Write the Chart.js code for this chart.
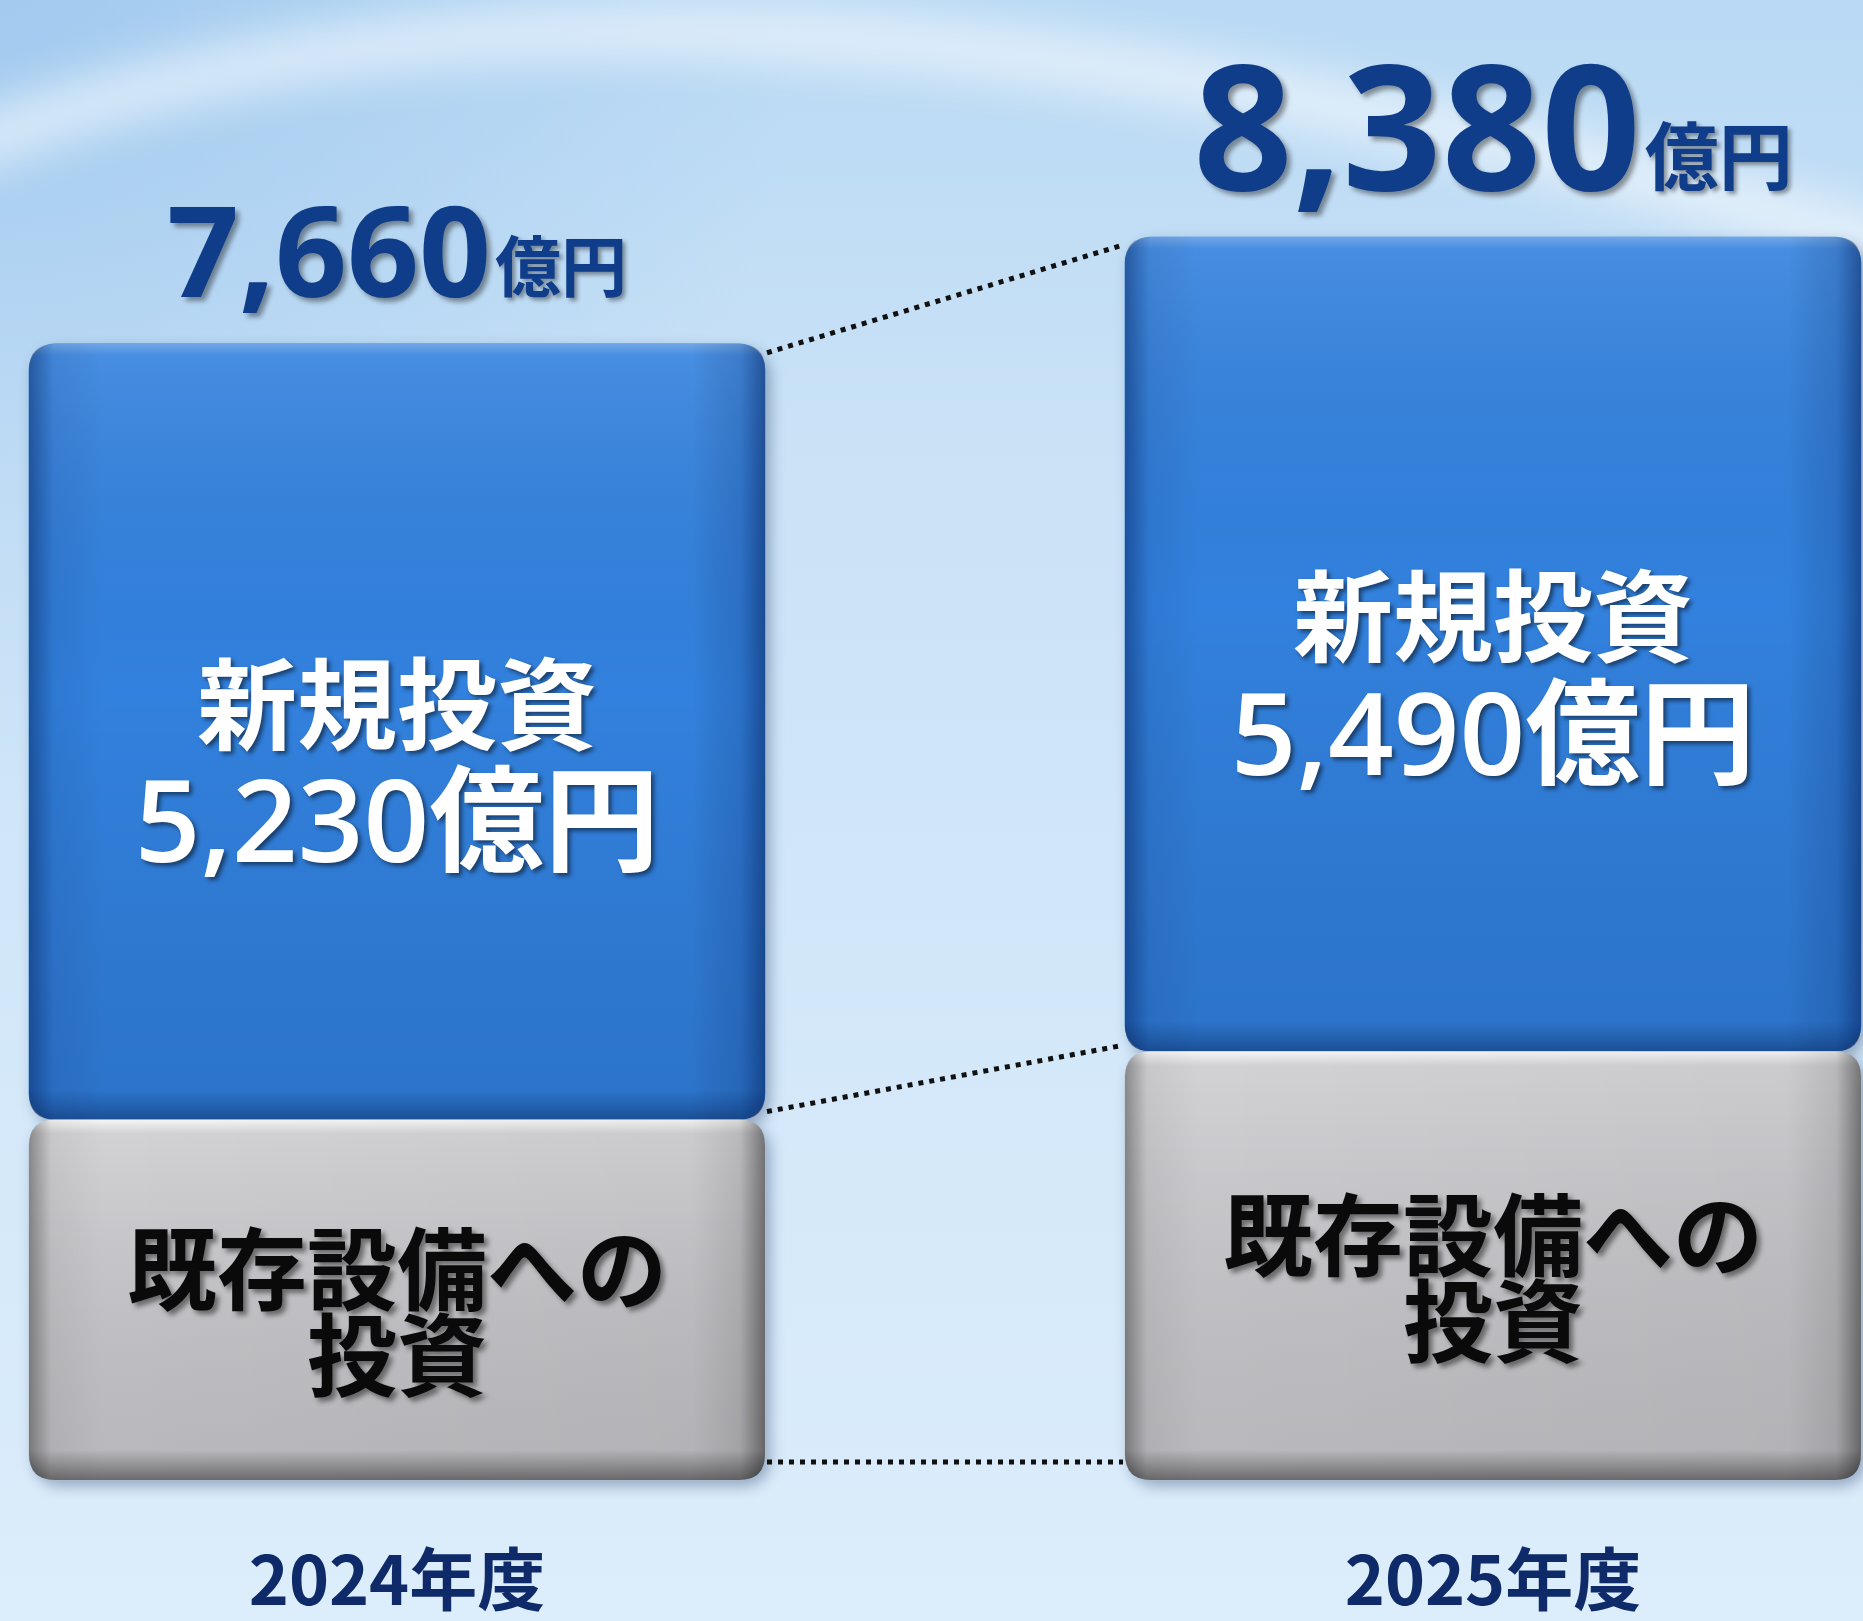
<!DOCTYPE html>
<html lang="ja">
<head>
<meta charset="utf-8">
<title>設備投資</title>
<script src="https://cdn.jsdelivr.net/npm/chart.js@4.4.1/dist/chart.umd.min.js"></script>
<style>
  html, body { margin: 0; padding: 0; background: #d3e7f8; overflow: hidden; }
  #wrap { width: 1863px; height: 1621px; position: relative; }
</style>
</head>
<body>
<div id="wrap"><canvas id="chart"></canvas></div>
<script>
// values in 億円
const categories = ["2024年度", "2025年度"];
const existingValues = [2430, 2890];   // 既存設備への投資
const newValues = [5230, 5490];        // 新規投資
const existingLines = ["既存設備への", "投資"];
const newTitle = "新規投資";
const unit = "億円";
const yMax = 9000;

const totals = categories.map((c, i) => existingValues[i] + newValues[i]);
const fmt = v => v.toLocaleString("en-US");

const NAVY = "#0f3d89";
const LATIN = '"Open Sans", "Noto Sans CJK JP", sans-serif';
const CJK = '"Noto Sans CJK JP", sans-serif';
const RADIUS = 26;

function roundedPath(ctx, x, y, w, h, r) {
  ctx.beginPath();
  ctx.moveTo(x + r, y);
  ctx.lineTo(x + w - r, y);
  ctx.quadraticCurveTo(x + w, y, x + w, y + r);
  ctx.lineTo(x + w, y + h - r);
  ctx.quadraticCurveTo(x + w, y + h, x + w - r, y + h);
  ctx.lineTo(x + r, y + h);
  ctx.quadraticCurveTo(x, y + h, x, y + h - r);
  ctx.lineTo(x, y + r);
  ctx.quadraticCurveTo(x, y, x + r, y);
  ctx.closePath();
}

function box(el) {
  const p = el.getProps(["x", "y", "base", "width"], true);
  return {
    cx: p.x,
    left: p.x - p.width / 2,
    right: p.x + p.width / 2,
    top: Math.min(p.y, p.base),
    bottom: Math.max(p.y, p.base)
  };
}

// 3d-ish shading over a finished bar
function shade(ctx, b, kind) {
  const w = b.right - b.left, h = b.bottom - b.top;
  ctx.save();
  roundedPath(ctx, b.left, b.top, w, h, RADIUS);
  ctx.clip();

  const gv = ctx.createLinearGradient(0, b.top, 0, b.bottom);
  const gh = ctx.createLinearGradient(b.left, 0, b.right, 0);
  if (kind === "blue") {
    gv.addColorStop(0, "rgba(255,255,255,0.30)");
    gv.addColorStop(12 / h, "rgba(255,255,255,0.10)");
    gv.addColorStop(0.45, "rgba(0,0,0,0)");
    gv.addColorStop(1 - 30 / h, "rgba(0,25,70,0.12)");
    gv.addColorStop(1, "rgba(0,25,70,0.45)");
    gh.addColorStop(0, "rgba(0,25,80,0.45)");
    gh.addColorStop(25 / w, "rgba(0,25,80,0.08)");
    gh.addColorStop(0.1, "rgba(0,0,0,0)");
    gh.addColorStop(0.9, "rgba(0,0,0,0)");
    gh.addColorStop(1 - 25 / w, "rgba(0,25,80,0.15)");
    gh.addColorStop(1, "rgba(0,25,80,0.5)");
  } else {
    gv.addColorStop(0, "rgba(255,255,255,0.85)");
    gv.addColorStop(14 / h, "rgba(255,255,255,0.25)");
    gv.addColorStop(0.3, "rgba(255,255,255,0.08)");
    gv.addColorStop(1 - 30 / h, "rgba(0,0,0,0.05)");
    gv.addColorStop(1, "rgba(0,0,0,0.45)");
    gh.addColorStop(0, "rgba(0,0,0,0.35)");
    gh.addColorStop(22 / w, "rgba(0,0,0,0.05)");
    gh.addColorStop(0.1, "rgba(0,0,0,0)");
    gh.addColorStop(0.9, "rgba(0,0,0,0.03)");
    gh.addColorStop(1 - 25 / w, "rgba(0,0,0,0.12)");
    gh.addColorStop(1, "rgba(0,0,0,0.45)");
  }
  ctx.fillStyle = gv;
  ctx.fillRect(b.left, b.top, w, h);
  ctx.fillStyle = gh;
  ctx.fillRect(b.left, b.top, w, h);
  ctx.restore();
}

function shadowText(ctx, text, x, y, color, shadow, blur, off) {
  ctx.save();
  ctx.shadowColor = shadow;
  ctx.shadowBlur = blur;
  ctx.shadowOffsetX = off;
  ctx.shadowOffsetY = off;
  ctx.fillStyle = color;
  ctx.fillText(text, x, y);
  ctx.restore();
}

const decorPlugin = {
  id: "decor",
  beforeDraw(chart) {
    const ctx = chart.ctx, W = chart.width, H = chart.height;
    ctx.save();
    const g = ctx.createLinearGradient(0, 0, 0, H);
    g.addColorStop(0, "#b9d9f4");
    g.addColorStop(0.3, "#cbe3f7");
    g.addColorStop(1, "#dcedfb");
    ctx.fillStyle = g;
    ctx.fillRect(0, 0, W, H);

    const r = ctx.createRadialGradient(0, 0, 0, 0, 0, 800);
    r.addColorStop(0, "rgba(120,175,230,0.35)");
    r.addColorStop(1, "rgba(120,175,230,0)");
    ctx.fillStyle = r;
    ctx.fillRect(0, 0, W, H);

    // soft white swoosh across the top
    ctx.filter = "blur(22px)";
    ctx.strokeStyle = "rgba(255,255,255,0.55)";
    ctx.lineWidth = 55;
    ctx.beginPath();
    ctx.moveTo(-40, 150);
    ctx.quadraticCurveTo(650, -130, 1900, 250);
    ctx.stroke();
    ctx.restore();
  },
  beforeDatasetsDraw(chart) {
    const ctx = chart.ctx;
    ctx.save();
    ctx.shadowColor = "rgba(20,45,90,0.35)";
    ctx.shadowBlur = 14;
    ctx.shadowOffsetX = 5;
    ctx.shadowOffsetY = 6;
  },
  afterDatasetsDraw(chart) {
    const ctx = chart.ctx;
    ctx.restore();

    const gray = chart.getDatasetMeta(0).data.map(box);
    const blue = chart.getDatasetMeta(1).data.map(box);
    gray.forEach(b => shade(ctx, b, "gray"));
    blue.forEach(b => shade(ctx, b, "blue"));

    // dotted connectors between the two years
    const L = 0, R = 1;
    const x0 = blue[L].right, x1 = blue[R].left;
    ctx.save();
    ctx.strokeStyle = "#111";
    ctx.lineWidth = 5;
    ctx.setLineDash([5, 6]);
    [[blue[L].top + 9, blue[R].top + 8],
     [blue[L].bottom - 8, blue[R].bottom - 6],
     [gray[L].bottom - 18, gray[R].bottom - 18]].forEach(([ya, yb]) => {
      ctx.beginPath();
      ctx.moveTo(x0 + 2, ya);
      ctx.lineTo(x1 - 2, yb);
      ctx.stroke();
    });
    ctx.restore();

    ctx.save();
    categories.forEach((c, i) => {
      // total above the stack
      const big = i === 1 ? 174 : 126;
      const small = i === 1 ? 74 : 66;
      const num = fmt(totals[i]);
      ctx.textBaseline = "alphabetic";
      ctx.textAlign = "left";
      ctx.font = `bold ${big}px ${LATIN}`;
      const wNum = ctx.measureText(num).width;
      ctx.font = `bold ${small}px ${CJK}`;
      const wUnit = ctx.measureText(unit).width;
      const gap = 4;
      const startX = blue[i].cx - (wNum + gap + wUnit) / 2;
      const baseY = blue[i].top - 47;
      ctx.font = `bold ${big}px ${LATIN}`;
      shadowText(ctx, num, startX, baseY, NAVY, "rgba(0,0,0,0.4)", 5, 4);
      ctx.font = `bold ${small}px ${CJK}`;
      shadowText(ctx, unit, startX + wNum + gap, baseY - 6, NAVY, "rgba(0,0,0,0.4)", 4, 3);

      // new investment label
      ctx.textAlign = "center";
      ctx.textBaseline = "middle";
      const bc = (blue[i].top + blue[i].bottom) / 2 + 35;
      ctx.font = `bold 100px ${CJK}`;
      shadowText(ctx, newTitle, blue[i].cx, bc - 63, "#ffffff", "rgba(0,0,0,0.5)", 4, 3);
      ctx.font = `600 115px ${LATIN}`;
      shadowText(ctx, fmt(newValues[i]) + unit, blue[i].cx, bc + 63, "#ffffff", "rgba(0,0,0,0.5)", 4, 3);

      // existing investment label
      const gc = (gray[i].top + gray[i].bottom) / 2 + 12;
      ctx.font = `bold 90px ${CJK}`;
      shadowText(ctx, existingLines[0], gray[i].cx, gc - 43, "#0a0a0a", "rgba(0,0,0,0.45)", 5, 4);
      shadowText(ctx, existingLines[1], gray[i].cx, gc + 43, "#0a0a0a", "rgba(0,0,0,0.45)", 5, 4);
    });
    ctx.restore();
  }
};

const corner = { topLeft: RADIUS, topRight: RADIUS, bottomLeft: RADIUS, bottomRight: RADIUS };

new Chart(document.getElementById("chart"), {
  type: "bar",
  data: {
    labels: categories,
    datasets: [
      {
        label: "既存設備への投資",
        data: existingValues,
        backgroundColor: "#c3c3c7",
        borderWidth: 0,
        borderRadius: corner,
        borderSkipped: false,
        barThickness: 736,
        clip: false
      },
      {
        label: "新規投資",
        data: newValues,
        backgroundColor: "#3281de",
        borderWidth: 0,
        borderRadius: corner,
        borderSkipped: false,
        barThickness: 736,
        clip: false
      }
    ]
  },
  options: {
    responsive: true,
    maintainAspectRatio: false,
    animation: false,
    layout: { padding: { left: 397, right: 370, top: 145, bottom: 0 } },
    plugins: {
      legend: { display: false },
      tooltip: { enabled: false }
    },
    scales: {
      x: {
        stacked: true,
        offset: false,
        grid: { display: false, drawTicks: false },
        border: { display: false },
        ticks: {
          color: "#0e2a69",
          font: { family: '"Noto Sans CJK JP", sans-serif', size: 68, weight: "bold" },
          padding: 58,
          maxRotation: 0,
          autoSkip: false
        },
        afterFit: scale => { scale.height = 141; }
      },
      y: {
        stacked: true,
        display: false,
        min: 0,
        max: yMax
      }
    }
  },
  plugins: [decorPlugin]
});
</script>
</body>
</html>
